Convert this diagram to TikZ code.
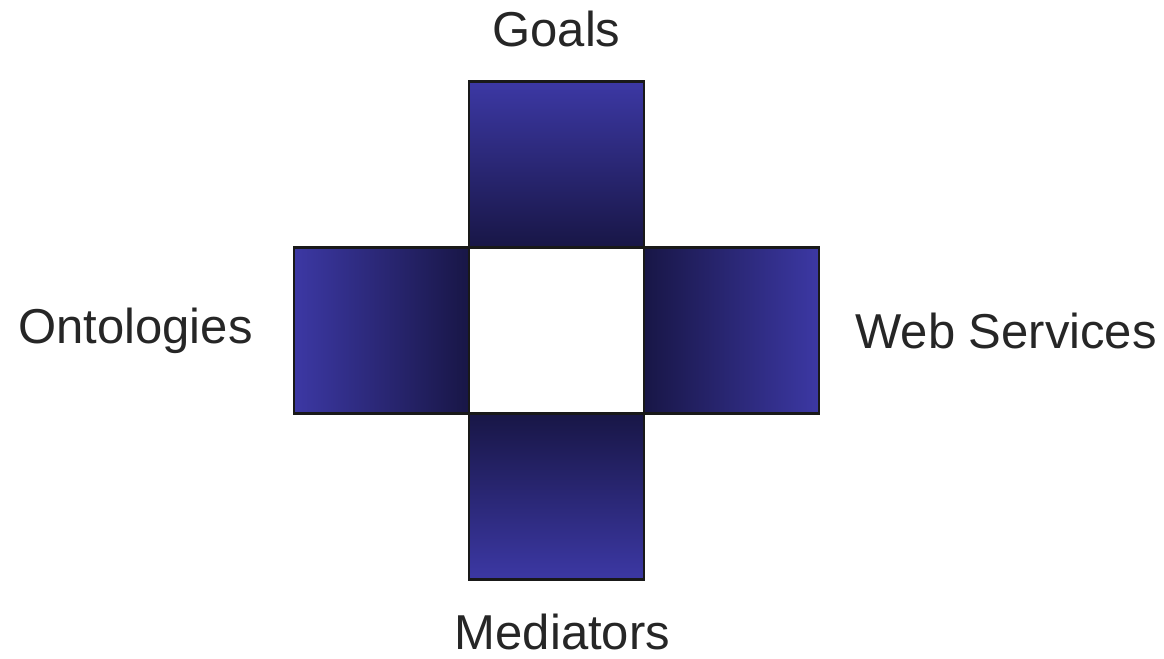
\documentclass[tikz,border=0pt]{standalone}
\usepackage{fontspec}
\setmainfont{Liberation Sans}
\usetikzlibrary{positioning}
\definecolor{boxlight}{RGB}{60,56,164}
\definecolor{boxdark}{RGB}{24,22,70}

\begin{document}
\begin{tikzpicture}[node distance=0pt,
  cell/.style={draw=black!90, line width=1.2pt, minimum width=87.5pt,
    minimum height=83pt, inner sep=0pt, outer sep=0pt},
  lbl/.style={font=\fontsize{24.5}{29}\selectfont, text=black!85, inner sep=0pt}]
  \useasboundingbox (0,0) rectangle (582pt,-329.5pt);
  \node[cell, fill=white] (core) at (278.25pt,-165.25pt) {};
  \node[cell, top color=boxlight, bottom color=boxdark, above=of core] (goals) {};
  \node[cell, left color=boxlight, right color=boxdark, left=of core] (onto) {};
  \node[cell, left color=boxdark, right color=boxlight, right=of core] (ws) {};
  \node[cell, top color=boxdark, bottom color=boxlight, below=of core] (med) {};
  % labels
  \node[lbl, above=17pt of goals] (goals-lbl) {Goals};
  \node[lbl, left=20.5pt of onto] (onto-lbl) {Ontologies};
  \node[lbl, right=18pt of ws] (ws-lbl) {Web Services};
  \node[lbl, below=17pt of med, xshift=3pt] (med-lbl) {Mediators};
\end{tikzpicture}
\end{document}
